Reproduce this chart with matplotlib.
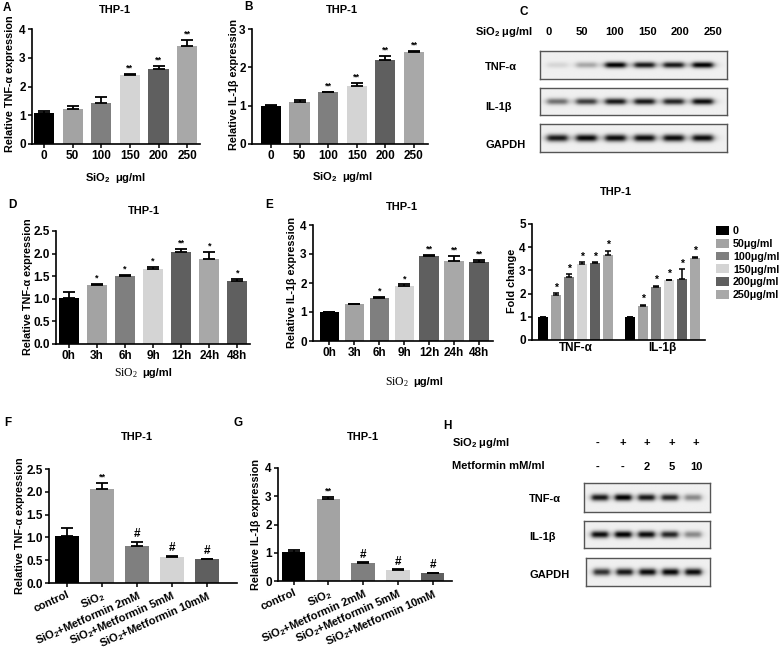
import numpy as np
import matplotlib
matplotlib.use('Agg')
import matplotlib.pyplot as plt

plt.rcParams['font.family'] = ['Liberation Sans', 'DejaVu Sans']
plt.rcParams['font.weight'] = 'bold'
plt.rcParams['axes.labelweight'] = 'bold'

# ---- data ----
dose_labels = ['0', '50', '100', '150', '200', '250']
a_tnf = [1.08, 1.23, 1.42, 2.40, 2.62, 3.42]
a_tnf_err = [0.07, 0.08, 0.23, 0.04, 0.08, 0.20]
a_marks = ['', '', '', '**', '**', '**']
b_il = [1.00, 1.10, 1.35, 1.52, 2.18, 2.40]
b_il_err = [0.01, 0.05, 0.01, 0.08, 0.12, 0.03]
b_marks = ['', '', '**', '**', '**', '**']

time_labels = ['0h', '3h', '6h', '9h', '12h', '24h', '48h']
d_tnf = [1.02, 1.31, 1.50, 1.67, 2.04, 1.89, 1.39]
d_tnf_err = [0.14, 0.02, 0.03, 0.04, 0.06, 0.15, 0.04]
d_marks = ['', '*', '*', '*', '**', '*', '*']
e_il = [1.00, 1.26, 1.50, 1.90, 2.93, 2.77, 2.74]
e_il_err = [0.01, 0.02, 0.02, 0.05, 0.03, 0.15, 0.06]
e_marks = ['', '', '*', '*', '**', '**', '**']

fold_groups = ['TNF-α', 'IL-1β']
fold_legend = ['0', '50μg/ml', '100μg/ml', '150μg/ml', '200μg/ml', '250μg/ml']
fold_tnf = [1.0, 1.93, 2.70, 3.28, 3.33, 3.67]
fold_tnf_err = [0.0, 0.08, 0.13, 0.08, 0.03, 0.17]
fold_il = [1.0, 1.48, 2.27, 2.57, 2.62, 3.55]
fold_il_err = [0.0, 0.03, 0.06, 0.02, 0.42, 0.03]
fold_marks = ['', '*', '*', '*', '*', '*']

treat_labels = ['control', 'SiO$\\mathregular{_2}$', 'SiO$\\mathregular{_2}$+Metformin 2mM',
                'SiO$\\mathregular{_2}$+Metformin 5mM', 'SiO$\\mathregular{_2}$+Metformin 10mM']
f_tnf = [1.02, 2.07, 0.82, 0.57, 0.52]
f_tnf_err = [0.18, 0.12, 0.09, 0.03, 0.01]
f_marks = ['', '**', '#', '#', '#']
g_il = [1.02, 2.92, 0.64, 0.40, 0.27]
g_il_err = [0.07, 0.04, 0.02, 0.02, 0.02]
g_marks = ['', '**', '#', '#', '#']

# western blot band strengths (0 = none, 1 = saturated)
c_tnf_bands = [0.10, 0.28, 0.95, 0.85, 0.85, 0.95]
c_il_bands = [0.50, 0.70, 0.85, 0.85, 0.80, 0.90]
c_gapdh_bands = [0.85, 0.92, 0.90, 0.90, 0.90, 0.90]
h_sio2 = ['-', '+', '+', '+', '+']
h_met = ['-', '-', '2', '5', '10']
h_tnf_bands = [0.85, 0.95, 0.85, 0.80, 0.40]
h_il_bands = [0.90, 0.95, 0.90, 0.80, 0.40]
h_gapdh_bands = [0.75, 0.85, 0.90, 0.92, 0.90]

greys = ['#000000', '#a3a3a3', '#7f7f7f', '#d4d4d4', '#5f5f5f', '#a8a8a8', '#5f5f5f']

TICK = 8.5
YL = 7.8
TT = 8

W, H = 784, 657
fig = plt.figure(figsize=(W / 100, H / 100), dpi=100)


def rect(l, t, r, b):
    return [l / W, 1 - b / H, (r - l) / W, (b - t) / H]


def ftext(x, y, s, **kw):
    fig.text(x / W, 1 - y / H, s, **kw)


def bar_panel(box, vals, errs, marks, labels, ylim, yticks, xlim, width, fmt='%g'):
    ax = fig.add_axes(rect(*box))
    x = np.arange(len(vals))
    ax.bar(x, vals, width=width, color=greys[:len(vals)], zorder=2)
    ax.errorbar(x, vals, yerr=[np.zeros(len(vals)), errs], fmt='none', ecolor='black',
                elinewidth=1.3, capsize=4, capthick=1.3, zorder=3)
    for xi, v, e, m in zip(x, vals, errs, marks):
        if m:
            fs = 8.5 if m == '#' else 6.5
            ax.annotate(m, (xi, v + e), xytext=(0, 1), textcoords='offset points',
                        ha='center', va='bottom', fontsize=fs, fontweight='bold')
    ax.set_xlim(*xlim)
    ax.set_ylim(*ylim)
    ax.set_yticks(yticks)
    ax.set_yticklabels([fmt % t for t in yticks])
    ax.set_xticks(x)
    ax.set_xticklabels(labels)
    for s in ['top', 'right']:
        ax.spines[s].set_visible(False)
    for s in ['left', 'bottom']:
        ax.spines[s].set_linewidth(1.2)
    ax.tick_params(direction='out', length=3, width=1.1, labelsize=TICK, pad=1.5)
    return ax


def blot(box, xlim, bands, sigma=0.13):
    ax = fig.add_axes(rect(*box))
    xs = np.linspace(xlim[0], xlim[1], 500)
    ys = np.linspace(0, 1, 80)
    X, Y = np.meshgrid(xs, ys)
    img = np.full(X.shape, 0.06)
    for i, a in enumerate(bands):
        img += a * np.exp(-((Y - 0.5) / sigma) ** 2) / (1 + ((X - i) / 0.36) ** 6)
    ax.imshow(np.clip(img, 0, 1), cmap='gray_r', vmin=0, vmax=1, aspect='auto',
              extent=(xlim[0], xlim[1], 0, 1), interpolation='bilinear')
    ax.set_xticks([])
    ax.set_yticks([])
    for s in ax.spines.values():
        s.set_color('#555555')
        s.set_linewidth(1.0)
    return ax


# ---- A ----
bar_panel((32, 29, 200, 144), a_tnf, a_tnf_err, a_marks, dose_labels, (0, 4), [0, 1, 2, 3, 4],
          (-0.42, 5.45), 0.7)
ftext(3, 8, 'A', fontsize=8.5, fontweight='bold', va='center')
ftext(115, 10, 'THP-1', fontsize=TT, ha='center', va='center')
ftext(10, 84, 'Relative TNF-α expression', fontsize=YL, rotation=90, ha='center', va='center')
ftext(116, 178, 'SiO$\\mathregular{_2}$  μg/ml', fontsize=8, ha='center', va='center')

# ---- B ----
bar_panel((252, 29, 428, 144), b_il, b_il_err, b_marks, dose_labels, (0, 3), [0, 1, 2, 3],
          (-0.66, 5.49), 0.7)
ftext(244, 7, 'B', fontsize=8.5, fontweight='bold', va='center')
ftext(342, 10, 'THP-1', fontsize=TT, ha='center', va='center')
ftext(234, 84, 'Relative IL-1β expression', fontsize=YL, rotation=90, ha='center', va='center')
ftext(343, 177, 'SiO$\\mathregular{_2}$  μg/ml', fontsize=8, ha='center', va='center')

# ---- C ----
cx = (-0.59, 5.86)
blot((540, 51, 727, 79), cx, c_tnf_bands, 0.11)
blot((540, 88, 727, 115), cx, c_il_bands, 0.12)
blot((540, 124, 727, 152), cx, c_gapdh_bands, 0.13)
ftext(519, 12, 'C', fontsize=8.5, fontweight='bold', va='center')
ftext(475, 32, 'SiO$\\mathregular{_2}$ μg/ml', fontsize=8, va='center')
for i, lab in enumerate(dose_labels):
    ftext(549 + i * 32.8, 32, lab, fontsize=8, ha='center', va='center')
ftext(485, 67, 'TNF-α', fontsize=8, va='center')
ftext(485, 107, 'IL-1β', fontsize=8, va='center')
ftext(485, 145, 'GAPDH', fontsize=8, va='center')

# ---- D ----
bar_panel((56, 231, 250, 344), d_tnf, d_tnf_err, d_marks, time_labels, (0, 2.5),
          [0, 0.5, 1.0, 1.5, 2.0, 2.5], (-0.46, 6.45), 0.72, fmt='%.1f')
ftext(8, 205, 'D', fontsize=8.5, fontweight='bold', va='center')
ftext(144, 211, 'THP-1', fontsize=TT, ha='center', va='center')
ftext(28, 287, 'Relative TNF-α expression', fontsize=YL, rotation=90, ha='center', va='center')
ftext(138, 373, 'SiO$\\mathregular{_2}$', fontsize=8.5, ha='right', va='center',
      family='Liberation Serif', fontweight='normal')
ftext(142, 373, 'μg/ml', fontsize=8, ha='left', va='center')

# ---- E ----
bar_panel((313, 225, 493, 341), e_il, e_il_err, e_marks, time_labels, (0, 4), [0, 1, 2, 3, 4],
          (-0.66, 6.56), 0.78)
ftext(265, 205, 'E', fontsize=8.5, fontweight='bold', va='center')
ftext(402, 207, 'THP-1', fontsize=TT, ha='center', va='center')
ftext(292, 283, 'Relative IL-1β expression', fontsize=YL, rotation=90, ha='center', va='center')
ftext(409, 382, 'SiO$\\mathregular{_2}$', fontsize=8.5, ha='right', va='center',
      family='Liberation Serif', fontweight='normal')
ftext(413, 382, 'μg/ml', fontsize=8, ha='left', va='center')

# ---- fold change (grouped) ----
ax = fig.add_axes(rect(532, 224, 705, 340))
centers = [0, 6.65]
handles = []
for gi, (vals, errs) in enumerate([(fold_tnf, fold_tnf_err), (fold_il, fold_il_err)]):
    x = centers[gi] + np.arange(6) - 2.5
    bars = ax.bar(x, vals, width=0.77, color=greys[:6], zorder=2)
    ax.errorbar(x, vals, yerr=[np.zeros(6), errs], fmt='none', ecolor='black',
                elinewidth=1.1, capsize=2.5, capthick=1.1, zorder=3)
    for xi, v, e, m in zip(x, vals, errs, fold_marks):
        if m:
            ax.annotate(m, (xi, v + e), xytext=(0, 0.5), textcoords='offset points',
                        ha='center', va='bottom', fontsize=7.5, fontweight='bold')
    if gi == 0:
        handles = list(bars)
ax.set_xlim(-3.35, 9.92)
ax.set_ylim(0, 5)
ax.set_yticks([0, 1, 2, 3, 4, 5])
ax.set_xticks(centers)
ax.set_xticklabels(fold_groups)
for s in ['top', 'right']:
    ax.spines[s].set_visible(False)
for s in ['left', 'bottom']:
    ax.spines[s].set_linewidth(1.2)
ax.tick_params(direction='out', length=3, width=1.1, labelsize=TICK, pad=1.5)
ax.tick_params(axis='x', length=0)
ax.legend(handles, fold_legend, loc='upper left', bbox_to_anchor=(716 / W, 1 - 226 / H),
          bbox_transform=fig.transFigure, frameon=False, fontsize=7.7, borderpad=0,
          borderaxespad=0, handlelength=1.25, handleheight=0.9, handletextpad=0.35,
          labelspacing=0.25)
ftext(616, 192, 'THP-1', fontsize=TT, ha='center', va='center')
ftext(512, 281, 'Fold change', fontsize=YL, rotation=90, ha='center', va='center')

# ---- F ----
ax = bar_panel((49, 469, 237, 583), f_tnf, f_tnf_err, f_marks, treat_labels, (0, 2.5),
               [0, 0.5, 1.0, 1.5, 2.0, 2.5], (-0.52, 4.87), 0.69, fmt='%.1f')
plt.setp(ax.get_xticklabels(), rotation=24, ha='right', rotation_mode='anchor', fontsize=8)
ftext(4, 423, 'F', fontsize=8.5, fontweight='bold', va='center')
ftext(137, 437, 'THP-1', fontsize=TT, ha='center', va='center')
ftext(20, 526, 'Relative TNF-α expression', fontsize=YL, rotation=90, ha='center', va='center')

# ---- G ----
ax = bar_panel((278, 468, 452, 581), g_il, g_il_err, g_marks, treat_labels, (0, 4),
               [0, 1, 2, 3, 4], (-0.45, 4.56), 0.68)
plt.setp(ax.get_xticklabels(), rotation=24, ha='right', rotation_mode='anchor', fontsize=8)
ftext(233, 423, 'G', fontsize=8.5, fontweight='bold', va='center')
ftext(363, 437, 'THP-1', fontsize=TT, ha='center', va='center')
ftext(256, 525, 'Relative IL-1β expression', fontsize=YL, rotation=90, ha='center', va='center')

# ---- H ----
hx = (-0.68, 4.72)
blot((584, 483, 710, 512), hx, h_tnf_bands, 0.12)
blot((584, 521, 710, 548), hx, h_il_bands, 0.13)
blot((586, 558, 710, 586), hx, h_gapdh_bands, 0.13)
ftext(443, 426, 'H', fontsize=8.5, fontweight='bold', va='center')
ftext(452, 443, 'SiO$\\mathregular{_2}$ μg/ml', fontsize=8, va='center')
ftext(452, 466, 'Metformin mM/ml', fontsize=8, va='center')
for i in range(5):
    ftext(598 + i * 24.5, 443, h_sio2[i], fontsize=8, ha='center', va='center')
    ftext(598 + i * 24.5, 467, h_met[i], fontsize=8, ha='center', va='center')
ftext(529, 499, 'TNF-α', fontsize=8, va='center')
ftext(529, 537, 'IL-1β', fontsize=8, va='center')
ftext(529, 575, 'GAPDH', fontsize=8, va='center')

fig.savefig('out.png', dpi=100, facecolor='white')
